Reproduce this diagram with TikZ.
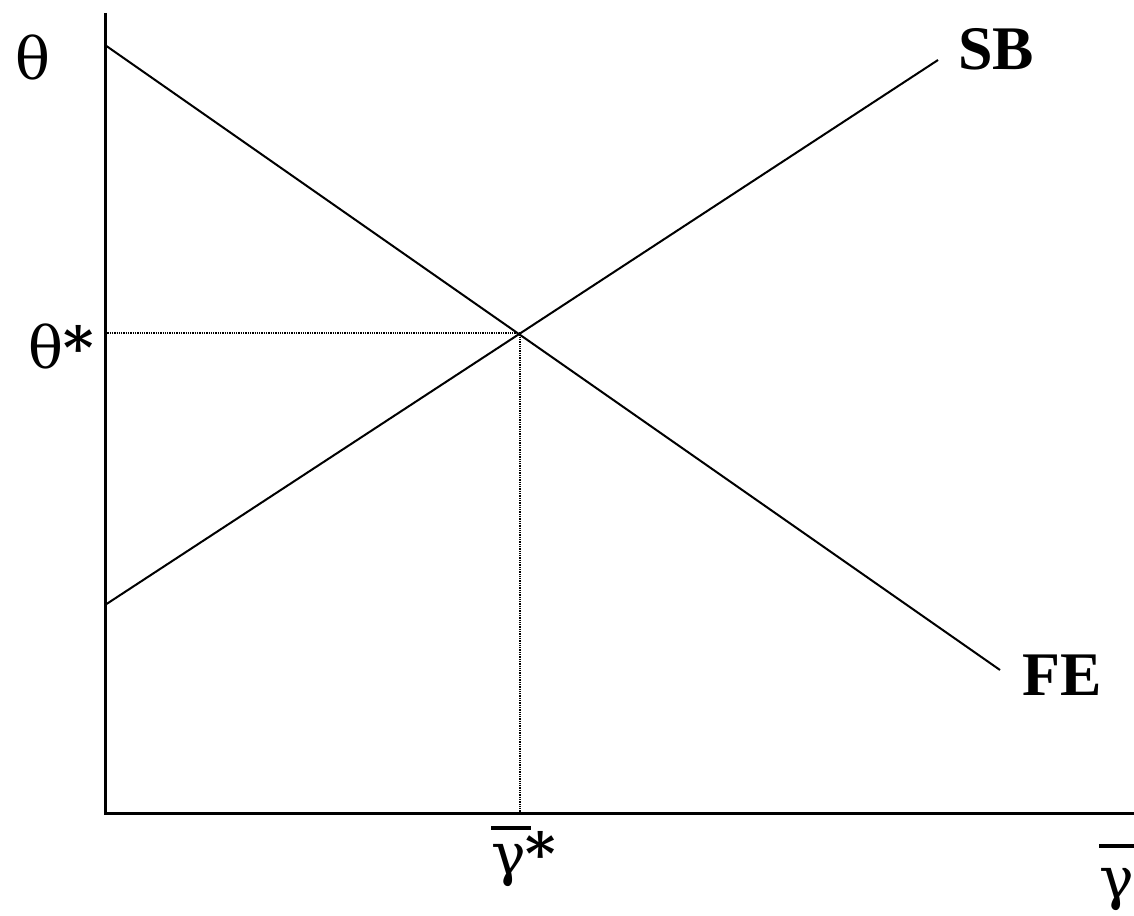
\documentclass[tikz,border=0pt]{standalone}
\usepackage{fontspec}
\setmainfont{Liberation Serif}
\newfontfamily\greekfont{DejaVu Serif}
\usepackage{tikz}
\newcommand\barred[3]{\leavevmode\rlap{\raisebox{#1}{\rule{#2}{4pt}}}#3}

\begin{document}
\begin{tikzpicture}[x=1pt, y=-1pt,
    lbl/.style={inner sep=0pt, anchor=base west, font=\fontsize{62}{70}\selectfont},
    greek/.style={lbl, font=\fontsize{58}{70}\greekfont},
    curve/.style={line width=2pt},
    guide/.style={densely dotted, line width=1.3pt}]
        \useasboundingbox (0,0) rectangle (1134,915);
        % Axes
        \coordinate (origin) at (105,813);
        \coordinate (ytop) at (105,13);
        \coordinate (xend) at (1134,813);
        \draw[line width=3pt] (ytop) -- (origin) -- (xend);
        % Curves
        \coordinate (festart) at (105,45);
        \coordinate (feend) at (1000,670);
        \coordinate (sbstart) at (105,605);
        \coordinate (sbend) at (938,60);
        \draw[curve] (festart) -- (feend);
        \draw[curve] (sbstart) -- (sbend);
        % Equilibrium
        \coordinate (eq) at (520,333);
        \coordinate (eqy) at (105,333);
        \coordinate (eqx) at (520,813);
        \draw[guide] (eqy) -- (eq) -- (eqx);
        % Labels
        \node[greek] (theta) at (15,80) {θ};
        \node[greek] (thetastar) at (28,368) {θ\textbf{*}};
        \node[greek] (gammastar) at (491,874) {\barred{44pt}{40pt}{γ}\textbf{*}};
        \node[greek] (gammabar) at (1099,898) {\barred{50pt}{40pt}{γ}};
        \node[lbl] (sb) at (958,70) {\textbf{SB}};
        \node[lbl] (fe) at (1022,695) {\textbf{FE}};
    \end{tikzpicture}
\end{document}
